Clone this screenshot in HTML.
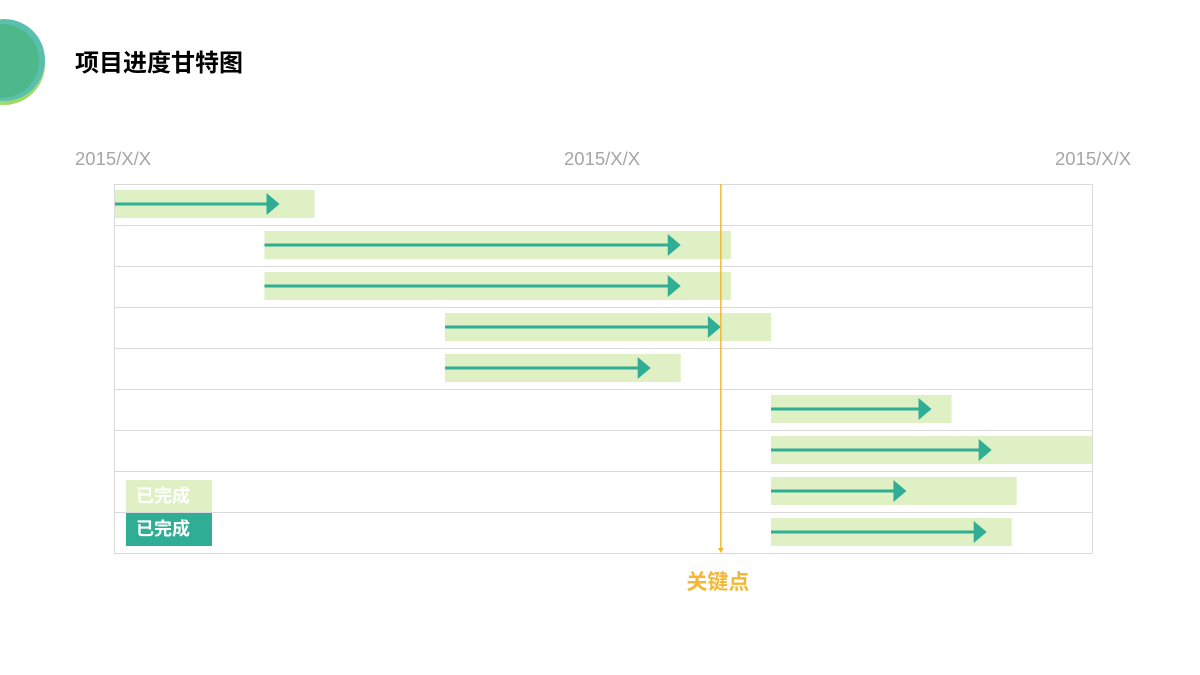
<!DOCTYPE html>
<html><head><meta charset="utf-8"><style>
body{margin:0;width:1200px;height:675px;background:#fff;overflow:hidden;position:relative;font-family:"Liberation Sans","Noto Sans CJK SC",sans-serif}
.t{position:absolute}
</style></head><body>
<svg class="t" style="left:0;top:0" width="60" height="110">
<circle cx="4" cy="64" r="41" fill="#9ed96a"/><circle cx="4" cy="60" r="41" fill="#5bbfb0"/><circle cx="2" cy="61" r="37" fill="#4db88a"/>
</svg>
<div class="t" style="left:75px;top:43px;font-size:24px;font-weight:bold;color:#000">项目进度甘特图</div>
<svg id="c" class="t" style="left:0;top:0" width="1200" height="675"></svg>
<div class="t" style="left:126px;top:480px;width:86px;height:32px;background:#dff0c5;color:#fff;font-weight:bold;font-size:18px;line-height:32px;text-indent:10px">已完成</div>
<div class="t" style="left:126px;top:513px;width:86px;height:33px;background:#2fae95;color:#fff;font-weight:bold;font-size:18px;line-height:33px;text-indent:10px">已完成</div>
<script>
const dateLabels=["2015/X/X","2015/X/X","2015/X/X"];
const planStart=[0,30,30,66,66,131,131,131,131];
const planEnd=[40,123,123,131,113,167,196,180,179];
const actualEnd=[33,113,113,121,107,163,175,158,174];
const keyPoint=121;
const keyLabel="关键点";
const NS="http://www.w3.org/2000/svg",svg=document.getElementById('c');
const X0=114,X1=1092,DMAX=195,Y0=184,RH=41;
const x=v=>Math.min(X1,X0+(X1-X0)*v/DMAX), y=i=>Y0+i*RH;
function mk(t,a){const e=document.createElementNS(NS,t);for(const k in a)e.setAttribute(k,a[k]);svg.appendChild(e);return e;}
dateLabels.forEach((l,i)=>{const e=mk('text',{x:[75,564,1055][i],y:165,'font-size':18.5,fill:'#a6a6a6','font-family':'Liberation Sans, sans-serif'});e.textContent=l;

});
for(let i=0;i<planStart.length;i++){
 const r=mk('rect',{x:x(planStart[i]),y:y(i)+6,width:x(planEnd[i])-x(planStart[i]),height:28,fill:'#dff0c5'});
 
 
 const ex=x(actualEnd[i]),cy=y(i)+20;
 const l=mk('line',{x1:x(planStart[i]),y1:cy,x2:ex-10,y2:cy,stroke:'#2fae95','stroke-width':3});
 
 
 const p=mk('polygon',{points:`${ex-13},${cy-11} ${ex},${cy} ${ex-13},${cy+11}`,fill:'#2fae95'});
 
 
}
for(let i=0;i<=planStart.length;i++){const l=mk('line',{x1:X0,x2:X1,y1:y(i)+.5,y2:y(i)+.5,stroke:'#d9d9d9','stroke-width':1});

}
[X0,X1].forEach(v=>{const l=mk('line',{x1:v+.5,x2:v+.5,y1:Y0,y2:y(9),stroke:'#d9d9d9'});

});
const kx=x(keyPoint);
const kl=mk('line',{x1:kx,x2:kx,y1:Y0,y2:y(9)-2,stroke:'#f5b731','stroke-width':1.5});


const kh=mk('polygon',{points:`${kx-3},${y(9)-5} ${kx+3},${y(9)-5} ${kx},${y(9)}`,fill:'#f5b731'});


const kt=mk('text',{x:kx-3,y:589,'text-anchor':'middle','font-size':21,'font-weight':'bold',fill:'#f5b731','font-family':'Liberation Sans, Noto Sans CJK SC, sans-serif'});
kt.textContent=keyLabel;


</script>
</body></html>
